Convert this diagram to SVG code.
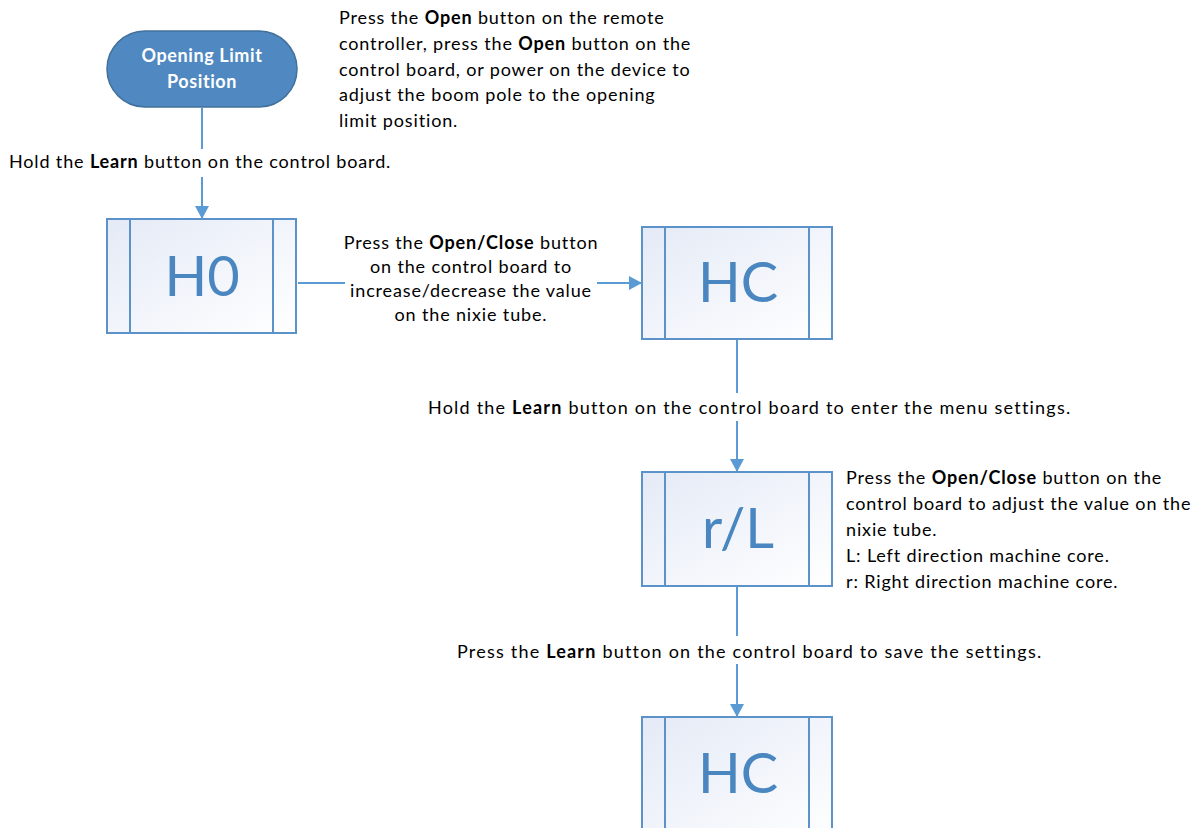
<svg xmlns="http://www.w3.org/2000/svg" width="1202" height="828" viewBox="0 0 1202 828">
<style>
.t{font-family:Lato,"Open Sans","Liberation Sans",sans-serif;font-size:18px;letter-spacing:0.85px;fill:#000}
.b{font-weight:bold}
.w{fill:#fff;font-weight:bold;letter-spacing:0.6px}
.box{fill:url(#g);stroke:#5b92c9;stroke-width:2}
.in{stroke:#5b92c9;stroke-width:2;fill:none}
.big{font-family:Lato,"Open Sans","Liberation Sans",sans-serif;font-size:56px;fill:#4a86c0;text-anchor:middle}
.c{stroke:#5b9bd5;stroke-width:2;fill:none}
</style>
<defs>
<linearGradient id="g" x1="0" y1="0" x2="1" y2="1">
<stop offset="0" stop-color="#e4eaf6"/>
<stop offset="1" stop-color="#ffffff"/>
</linearGradient>
<marker id="a" markerWidth="14" markerHeight="14" refX="12" refY="7" orient="auto" markerUnits="userSpaceOnUse">
<path d="M0,0 L13,7 L0,14 Z" fill="#5b9bd5"/>
</marker>
</defs>
<g id="connectors">
<line class="c" x1="202" y1="108" x2="202" y2="149"/>
<line class="c" x1="202" y1="177" x2="202" y2="218" marker-end="url(#a)"/>
<line class="c" x1="298" y1="283" x2="345" y2="283"/>
<line class="c" x1="597" y1="283" x2="641" y2="283" marker-end="url(#a)"/>
<line class="c" x1="737" y1="340" x2="737" y2="393"/>
<line class="c" x1="737" y1="421" x2="737" y2="471" marker-end="url(#a)"/>
<line class="c" x1="737" y1="587" x2="737" y2="636"/>
<line class="c" x1="737" y1="664" x2="737" y2="716" marker-end="url(#a)"/>
</g>
<g id="start">
<rect x="107" y="31" width="190" height="76" rx="38" fill="#5088c1" stroke="#41719c" stroke-width="1.5"/>
<text class="t w" x="202" y="62" text-anchor="middle">Opening Limit</text>
<text class="t w" x="202" y="88" text-anchor="middle">Position</text>
</g>
<g id="h0">
<rect class="box" x="107" y="219" width="189" height="114"/>
<line class="in" x1="130" y1="219" x2="130" y2="333"/>
<line class="in" x1="273" y1="219" x2="273" y2="333"/>
<text class="big" x="202" y="296">H0</text>
</g>
<g id="hc1">
<rect class="box" x="642" y="227" width="190" height="112"/>
<line class="in" x1="665" y1="227" x2="665" y2="339"/>
<line class="in" x1="809" y1="227" x2="809" y2="339"/>
<text class="big" x="738" y="302">HC</text>
</g>
<g id="rl">
<rect class="box" x="642" y="472" width="190" height="114"/>
<line class="in" x1="665" y1="472" x2="665" y2="586"/>
<line class="in" x1="809" y1="472" x2="809" y2="586"/>
<text class="big" x="738" y="548">r/L</text>
</g>
<g id="hc2">
<rect class="box" x="642" y="717" width="190" height="130"/>
<line class="in" x1="665" y1="717" x2="665" y2="840"/>
<line class="in" x1="809" y1="717" x2="809" y2="840"/>
<text class="big" x="738" y="793">HC</text>
</g>
<g id="labels">
<text class="t" x="339" y="24">Press the <tspan class="b">Open</tspan> button on the remote</text>
<text class="t" x="339" y="50">controller, press the <tspan class="b">Open</tspan> button on the</text>
<text class="t" x="339" y="76">control board, or power on the device to</text>
<text class="t" x="339" y="101">adjust the boom pole to the opening</text>
<text class="t" x="339" y="127">limit position.</text>
<text class="t" x="9" y="168">Hold the <tspan class="b">Learn</tspan> button on the control board.</text>
<text class="t" x="471" y="249" text-anchor="middle">Press the <tspan class="b">Open/Close</tspan> button</text>
<text class="t" x="471" y="273" text-anchor="middle">on the control board to</text>
<text class="t" x="471" y="297" text-anchor="middle">increase/decrease the value</text>
<text class="t" x="471" y="321" text-anchor="middle">on the nixie tube.</text>
<text class="t" x="428" y="414" textLength="643">Hold the <tspan class="b">Learn</tspan> button on the control board to enter the menu settings.</text>
<text class="t" x="846" y="484">Press the <tspan class="b">Open/Close</tspan> button on the</text>
<text class="t" x="846" y="510">control board to adjust the value on the</text>
<text class="t" x="846" y="536">nixie tube.</text>
<text class="t" x="846" y="562">L: Left direction machine core.</text>
<text class="t" x="846" y="588">r: Right direction machine core.</text>
<text class="t" x="457" y="658" textLength="585">Press the <tspan class="b">Learn</tspan> button on the control board to save the settings.</text>
</g>
</svg>
